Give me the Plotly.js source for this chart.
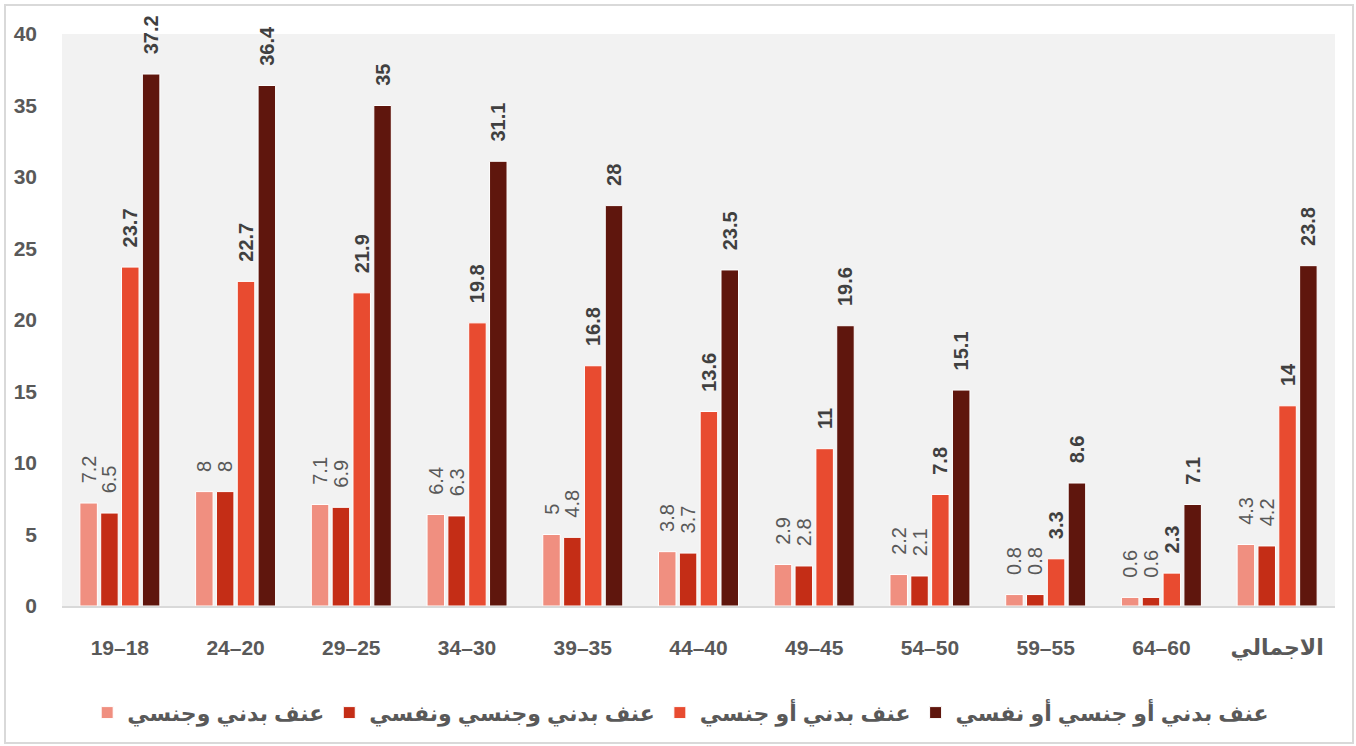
<!DOCTYPE html>
<html>
<head>
<meta charset="utf-8">
<script src="https://cdn.plot.ly/plotly-3.0.1.min.js"></script>
<style>
  html, body { margin: 0; padding: 0; background: #ffffff; }
  #chart { width: 1356px; height: 746px; }
  #frame { position: absolute; left: 4px; top: 4px; width: 1346px; height: 736px;
           border: 2px solid #d9d9d9; pointer-events: none; }
</style>
</head>
<body>
<div id="chart"></div>
<div id="frame"></div>
<script>
const categories = ['19–18', '24–20', '29–25', '34–30', '39–35', '44–40', '49–45', '54–50', '59–55', '64–60', 'الاجمالي'];
const seriesNames = ['عنف بدني وجنسي', 'عنف بدني وجنسي ونفسي', 'عنف بدني أو جنسي', 'عنف بدني أو جنسي أو نفسي'];
const physicalAndSexual = [7.2, 8, 7.1, 6.4, 5, 3.8, 2.9, 2.2, 0.8, 0.6, 4.3];
const physicalSexualPsych = [6.5, 8, 6.9, 6.3, 4.8, 3.7, 2.8, 2.1, 0.8, 0.6, 4.2];
const physicalOrSexual = [23.7, 22.7, 21.9, 19.8, 16.8, 13.6, 11, 7.8, 3.3, 2.3, 14];
const physicalSexualOrPsych = [37.2, 36.4, 35, 31.1, 28, 23.5, 19.6, 15.1, 8.6, 7.1, 23.8];
const yTicks = [0, 5, 10, 15, 20, 25, 30, 35, 40];

const colors = ['#f08f80', '#c42d16', '#e84b30', '#5f160d'];
const seriesValues = [physicalAndSexual, physicalSexualPsych, physicalOrSexual, physicalSexualOrPsych];
const FONT = 'Liberation Sans, Arial, DejaVu Sans, sans-serif';

const traces = seriesValues.map((vals, i) => ({
  type: 'bar',
  name: seriesNames[i],
  x: categories,
  y: vals,
  marker: { color: colors[i], line: { color: '#ffffff', width: 1 } },
  text: vals.map(v => String(v)),
  texttemplate: '\u00a0\u00a0\u00a0%{text}',
  textposition: 'outside',
  textangle: -90,
  constraintext: 'none',
  cliponaxis: false,
  textfont: {
    family: FONT,
    size: 20,
    color: i < 2 ? '#595959' : '#404040',
    weight: i < 2 ? 'normal' : 'bold'
  },
  hoverinfo: 'x+y+name'
}));

const tickText = categories.map((c, i) =>
  i === categories.length - 1 ? '<span style="font-size:22px">' + c + '</span>' : c);

const layout = {
  width: 1356,
  height: 746,
  margin: { l: 62, r: 21, t: 34, b: 137 },
  paper_bgcolor: '#ffffff',
  plot_bgcolor: '#f2f2f2',
  barmode: 'group',
  bargap: 0.28,
  bargroupgap: 0.16,
  showlegend: true,
  legend: {
    orientation: 'h',
    x: 0.486, xanchor: 'center',
    y: -0.15, yanchor: 'top',
    font: { family: FONT, size: 22, color: '#595959', weight: 'bold' },
    itemclick: false
  },
  xaxis: {
    type: 'category',
    tickvals: categories,
    ticktext: tickText,
    showgrid: false,
    showline: true,
    linecolor: '#d9d9d9',
    linewidth: 2,
    ticks: '',
    ticklabelstandoff: 22,
    tickfont: { family: FONT, size: 21, color: '#595959', weight: 'bold' },
    zeroline: false
  },
  yaxis: {
    range: [0, 40],
    tickvals: yTicks,
    ticktext: yTicks.map(String),
    showgrid: false,
    zeroline: false,
    showline: false,
    ticks: '',
    ticklabelstandoff: 24,
    tickfont: { family: FONT, size: 21, color: '#595959', weight: 'bold' }
  }
};

Plotly.newPlot('chart', traces, layout, { displayModeBar: false, staticPlot: true });
</script>
</body>
</html>
